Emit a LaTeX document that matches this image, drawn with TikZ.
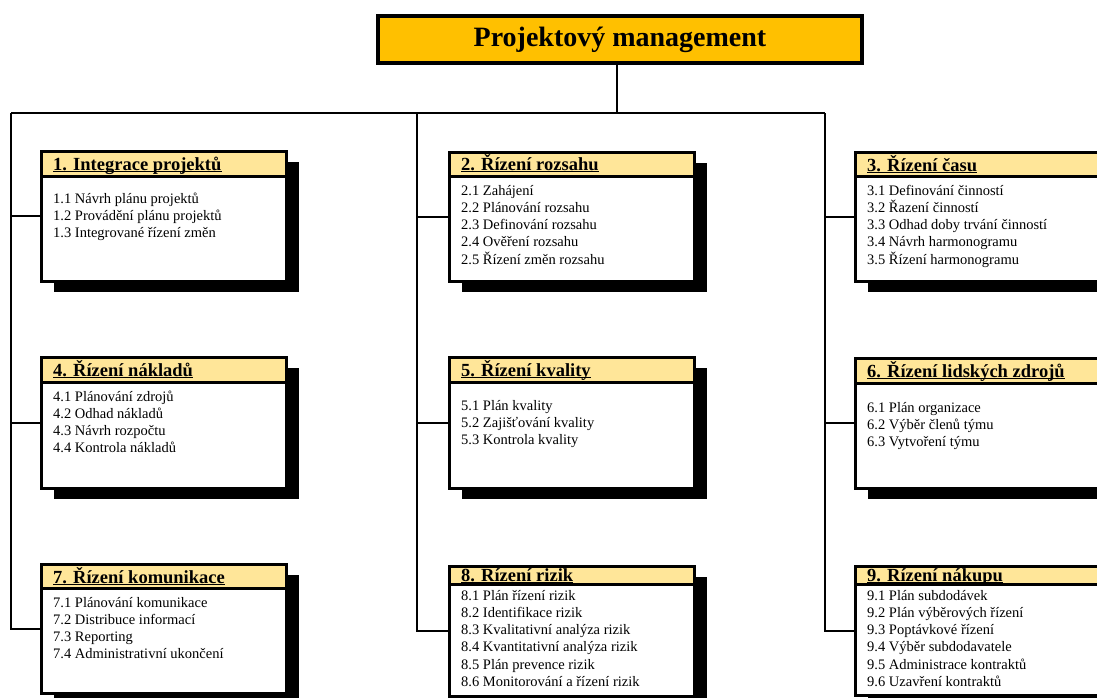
\documentclass[tikz,border=0pt]{standalone}
\usepackage{fontspec}
\setmainfont{Liberation Serif}
\usetikzlibrary{shadows}
\definecolor{titlefill}{HTML}{FFC000}
\definecolor{hdrfill}{HTML}{FFE699}
\tikzset{
  conn/.style={line width=2pt},
  boxbody/.style={draw, line width=2.5pt, fill=white, anchor=north west, inner sep=0pt,
    minimum width=245pt,
    drop shadow={shadow xshift=13pt, shadow yshift=-11pt, opacity=1, fill=black}},
  boxhdr/.style={draw, line width=2.5pt, fill=hdrfill, anchor=north west, inner sep=0pt, minimum width=245pt},
  hdrtext/.style={anchor=base west, inner sep=0pt, font=\fontsize{18.5}{18.5}\selectfont\bfseries},
  itemtext/.style={anchor=base west, inner sep=0pt, font=\fontsize{14.5}{17}\selectfont},
  uline/.style={line width=1.3pt},
  titlebox/.style={draw, line width=3.2pt, fill=titlefill, inner sep=0pt,
    minimum width=484pt, minimum height=47pt, font=\fontsize{28}{28}\selectfont\bfseries},
}
% #1 name, #2 x, #3 top, #4 header bottom, #5 bottom, #6 header text, #7 header baseline, #8 first item baseline, #9 items
\newcommand\wbsbox[9]{%
  \pgfmathsetmacro\bxh{#5-#3}%
  \pgfmathsetmacro\hdh{#4-#3}%
  \node[boxbody, minimum height=\bxh pt] (#1) at (#2,#3) {};
  \node[boxhdr, minimum height=\hdh pt] (#1h) at (#2,#3) {};
  \node[hdrtext] (#1t) at (#2+13,#7) {#6};
  \draw[uline] ([yshift=-1.5pt]#1t.base west) -- ([yshift=-1.5pt]#1t.base east);
  \foreach \t [count=\i] in {#9} {
    \node[itemtext] (#1-i\i) at (#2+13,{#8+(\i-1)*17.3}) {\t};
  }
}
\begin{document}
\begin{tikzpicture}[x=1pt,y=-1pt]
\useasboundingbox (0,0) rectangle (1097,697);
\clip (0,0) rectangle (1097,697);

\node[titlebox] (top) at (620,39.5) {Projektový management};

\coordinate (bus) at (617,113);
\coordinate (busL) at (11,113);
\coordinate (busM) at (417,113);
\coordinate (busR) at (825,113);

\wbsbox{b1}{40}{150}{175}{280}{1. Integrace projektů}{170}{203}{1.1 Návrh plánu projektů,1.2 Provádění plánu projektů,1.3 Integrované řízení změn}
\wbsbox{b2}{448}{151}{175}{280}{2. Řízení rozsahu}{170}{195}{2.1 Zahájení,2.2 Plánování rozsahu,2.3 Definování rozsahu,2.4 Ověření rozsahu,2.5 Řízení změn rozsahu}
\wbsbox{b3}{854}{151}{175}{280}{3. Řízení času}{171}{195}{3.1 Definování činností,3.2 Řazení činností,3.3 Odhad doby trvání činností,3.4 Návrh harmonogramu,3.5 Řízení harmonogramu}

\wbsbox{b4}{40}{356}{381}{487}{4. Řízení nákladů}{376}{401}{4.1 Plánování zdrojů,4.2 Odhad nákladů,4.3 Návrh rozpočtu,4.4 Kontrola nákladů}
\wbsbox{b5}{448}{356}{381}{487}{5. Řízení kvality}{376}{410}{5.1 Plán kvality,5.2 Zajišťování kvality,5.3 Kontrola kvality}
\wbsbox{b6}{854}{357}{382}{487}{6. Řízení lidských zdrojů}{377}{412}{6.1 Plán organizace,6.2 Výběr členů týmu,6.3 Vytvoření týmu}

\wbsbox{b7}{40}{563}{587}{692}{7. Řízení komunikace}{583}{607}{7.1 Plánování komunikace,7.2 Distribuce informací,7.3 Reporting,7.4 Administrativní ukončení}
\wbsbox{b8}{448}{565}{583}{695}{8. Řízení rizik}{581}{600}{8.1 Plán řízení rizik,8.2 Identifikace rizik,8.3 Kvalitativní analýza rizik,8.4 Kvantitativní analýza rizik,8.5 Plán prevence rizik,8.6 Monitorování a řízení rizik}
\wbsbox{b9}{854}{565}{583}{694}{9. Řízení nákupu}{581}{600}{9.1 Plán subdodávek,9.2 Plán výběrových řízení,9.3 Poptávkové řízení,9.4 Výběr subdodavatele,9.5 Administrace kontraktů,9.6 Uzavření kontraktů}

\draw[conn] (bus |- top.south) -- (bus);
\draw[conn] (busL) -- (busR);
\draw[conn] (busL) -- (busL |- b7.west) -- (b7.west);
\draw[conn] (busM) -- (busM |- b8.west) -- (b8.west);
\draw[conn] (busR) -- (busR |- b9.west) -- (b9.west);
\draw[conn] (busL |- b1.west) -- (b1.west);
\draw[conn] (busL |- b4.west) -- (b4.west);
\draw[conn] (busM |- b2.west) -- (b2.west);
\draw[conn] (busM |- b5.west) -- (b5.west);
\draw[conn] (busR |- b3.west) -- (b3.west);
\draw[conn] (busR |- b6.west) -- (b6.west);
\end{tikzpicture}
\end{document}
